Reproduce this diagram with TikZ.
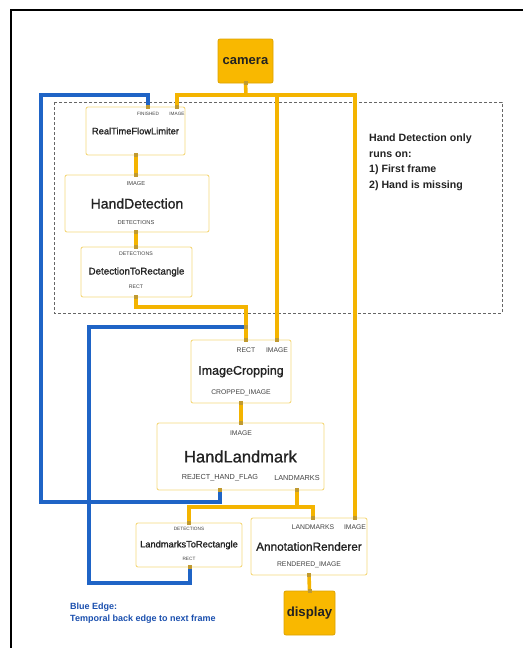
\documentclass[tikz,border=0pt]{standalone}
\usepackage{fontspec}
\setmainfont{Liberation Sans}
\newfontfamily\namefont[FakeBold=1.1]{Liberation Sans}
\usetikzlibrary{positioning, calc}
\definecolor{mpyellow}{HTML}{F4B400}
\definecolor{mpedge}{HTML}{F5D97E}
\definecolor{mppin}{HTML}{C09A30}
\definecolor{mpsource}{HTML}{F9B800}
\definecolor{mpblue}{HTML}{1F64C6}
\definecolor{mpnote}{HTML}{1A4FAE}
\definecolor{mptext}{HTML}{222222}

\begin{document}
\begin{tikzpicture}[
    x=1pt, y=-1pt,
    every node/.style={font=\fontsize{6}{7}\selectfont, text=mptext},
    calcbox/.style={rectangle, rounded corners=2pt, draw=mpedge, fill=white, line width=0.9pt, inner sep=0pt, font=\namefont\fontsize{#1}{#1}\selectfont},
    srcbox/.style={rectangle, rounded corners=2pt, draw=mpyellow!90!black, fill=mpsource, line width=0.8pt, inner sep=0pt, font=\bfseries\fontsize{#1}{#1}\selectfont},
    portlabel/.style={inner sep=0pt, text=mptext!85, font=\fontsize{#1}{#1}\selectfont},
    flow/.style={draw=mpyellow, line width=3.6pt},
    backedge/.style={draw=mpblue, line width=3.6pt},
    pin/.style={rectangle, fill=mppin, minimum size=4pt, inner sep=0pt},
]
\useasboundingbox (0,0) rectangle (523,648);
\draw[line width=1.6pt] (11,648) -- (11,10) -- (523,10);

% region where hand detection runs
\draw[gray!80!black, line width=0.9pt, dash pattern=on 3pt off 2pt] (54,102) rectangle (502,313);
\node[anchor=north west, align=left, inner sep=0pt, font=\bfseries\fontsize{10.6}{15.5}\selectfont] (note) at (369,134) {Hand Detection only\\runs on:\\1) First frame\\2) Hand is missing};

% calculators
\node[srcbox=13, minimum width=55, minimum height=44] (camera) at (245.5,61) {camera};
\node[calcbox=9.3, minimum width=99, minimum height=48] (rtfl) at (135.5,131) {RealTimeFlowLimiter};
\node[calcbox=14, minimum width=144, minimum height=57] (hdet) at (137,203.5) {HandDetection};
\node[calcbox=9.8, minimum width=111, minimum height=50] (dtr) at (136.5,272) {DetectionToRectangle};
\node[calcbox=12.5, minimum width=100, minimum height=63] (icrop) at (241,371.5) {ImageCropping};
\node[calcbox=16.5, minimum width=167, minimum height=67] (hland) at (240.5,456.5) {HandLandmark};
\node[calcbox=9.3, minimum width=106, minimum height=44] (l2r) at (189,545) {LandmarksToRectangle};
\node[calcbox=11.8, minimum width=116, minimum height=57] (annot) at (309,546.5) {AnnotationRenderer};
\node[srcbox=13.2, minimum width=51, minimum height=44] (display) at (309.5,613) {display};

% stream labels
\node[portlabel=4.7] (rtfl-fin-l) at (148,114) {FINISHED};
\node[portlabel=4.7] (rtfl-img-l) at (177,114) {IMAGE};
\node[portlabel=5.7] (hdet-in-l) at (136,184) {IMAGE};
\node[portlabel=5.7] (hdet-out-l) at (136,223) {DETECTIONS};
\node[portlabel=5.2] (dtr-in-l) at (136,254) {DETECTIONS};
\node[portlabel=5.2] (dtr-out-l) at (136,287) {RECT};
\node[portlabel=6.8] (icrop-rect-l) at (246,350) {RECT};
\node[portlabel=6.8] (icrop-img-l) at (277,350) {IMAGE};
\node[portlabel=6.8] (icrop-out-l) at (241,393) {CROPPED\_IMAGE};
\node[portlabel=6.8] (hland-in-l) at (241,433) {IMAGE};
\node[portlabel=7.3] (hland-rej-l) at (220,478) {REJECT\_HAND\_FLAG};
\node[portlabel=7.3] (hland-lm-l) at (297,478) {LANDMARKS};
\node[portlabel=4.7] (l2r-in-l) at (189,529) {DETECTIONS};
\node[portlabel=4.7] (l2r-out-l) at (189,559) {RECT};
\node[portlabel=6.8] (annot-lm-l) at (313,527) {LANDMARKS};
\node[portlabel=6.8] (annot-img-l) at (355,527) {IMAGE};
\node[portlabel=6.8] (annot-out-l) at (309,565) {RENDERED\_IMAGE};

% ports
\coordinate (rtfl-fin) at (148,107);
\coordinate (rtfl-img) at (177,107);
\coordinate (rtfl-out) at (136,155);
\coordinate (hdet-in) at (136,175);
\coordinate (hdet-out) at (136,232);
\coordinate (dtr-in) at (136,247);
\coordinate (dtr-out) at (136,297);
\coordinate (icrop-rect) at (246,340);
\coordinate (icrop-img) at (277,340);
\coordinate (icrop-out) at (241,403);
\coordinate (hland-in) at (241,423);
\coordinate (hland-rej) at (220,490);
\coordinate (hland-lm) at (297,490);
\coordinate (l2r-in) at (189,523);
\coordinate (l2r-out) at (190,567);
\coordinate (annot-lm) at (313,518);
\coordinate (annot-img) at (355,518);
\coordinate (annot-out) at (309,575);
\coordinate (camsplit) at (246,95);
\coordinate (lmsplit) at (297,507);
\coordinate (rectjoin) at (246,327);
\coordinate (backleft) at (41,502);
\coordinate (backtop) at (41,95);
\coordinate (backinner) at (89,583);

% temporal back edges
\draw[backedge] (hland-rej) |- (backleft) -- (backtop) -| (rtfl-fin);
\draw[backedge] (l2r-out) |- (backinner) |- (rectjoin);

% image streams
\draw[flow] (camera.south) -- (camsplit);
\draw[flow] (rtfl-img) |- (camsplit) -| (annot-img);
\draw[flow] (camsplit -| icrop-img) -- (icrop-img);
\draw[flow] (rtfl-out) -- (hdet-in);
\draw[flow] (hdet-out) -- (dtr-in);
\draw[flow] (dtr-out) -- ++(0,10) -| (icrop-rect);
\draw[flow] (icrop-out) -- (hland-in);
\draw[flow] (hland-lm) -- (lmsplit);
\draw[flow] (l2r-in) |- (lmsplit) -| (annot-lm);
\draw[flow] (annot-out) -- (display.north);

\path (camera.south) node[pin] {} (rtfl-fin) node[pin] {} (rtfl-img) node[pin] {}
      (rtfl-out) node[pin] {} (hdet-in) node[pin] {} (hdet-out) node[pin] {}
      (dtr-in) node[pin] {} (dtr-out) node[pin] {} (rectjoin) node[pin] {}
      (icrop-rect) node[pin] {} (icrop-img) node[pin] {} (icrop-out) node[pin] {}
      (hland-in) node[pin] {} (hland-rej) node[pin] {} (hland-lm) node[pin] {}
      (l2r-in) node[pin] {} (l2r-out) node[pin] {} (annot-lm) node[pin] {}
      (annot-img) node[pin] {} (annot-out) node[pin] {} (display.north) node[pin] {};

\node[anchor=north west, align=left, inner sep=0pt, text=mpnote, font=\bfseries\fontsize{9}{12}\selectfont] (legend) at (70,603) {Blue Edge:\\Temporal back edge to next frame};
\end{tikzpicture}
\end{document}
